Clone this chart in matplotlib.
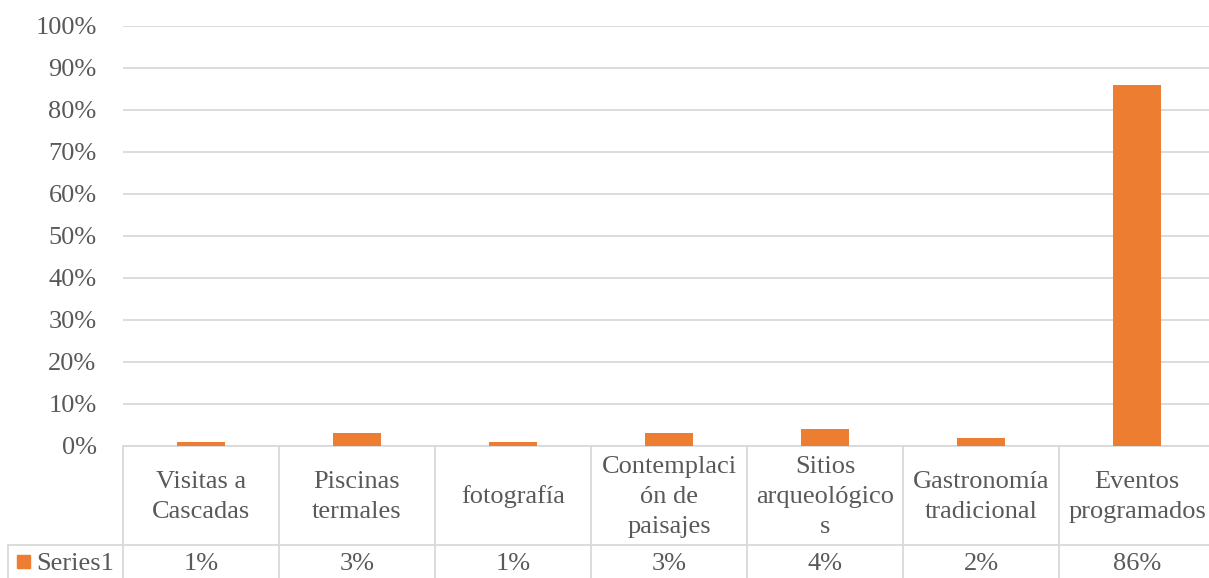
import numpy as np
import matplotlib.pyplot as plt
from matplotlib.patches import Rectangle

# ==========================================================
# Data
# ==========================================================

categories = [
    "Visitas a\nCascadas",
    "Piscinas\ntermales",
    "fotografía",
    "Contemplaci\nón de\npaisajes",
    "Sitios\narqueológico\ns",
    "Gastronomía\ntradicional",
    "Eventos\nprogramados",
]

values = [0.01, 0.03, 0.01, 0.03, 0.04, 0.02, 0.86]

series_name = "Series1"

yticks = np.arange(0, 1.01, 0.1)

# ==========================================================
# Style
# ==========================================================

BAR_COLOR = "#ED7D31"
TEXT_COLOR = "#595959"
GRID_COLOR = "#D9D9D9"
FS = 19

plt.rcParams["font.family"] = ["Liberation Serif", "DejaVu Serif"]

W, H = 1209, 578
fig = plt.figure(figsize=(W / 100, H / 100), dpi=100)

# plot area in pixels
x0, cell_w = 123, 156
y_zero, y_top = 446, 26
n = len(categories)

ax = fig.add_axes([
    x0 / W,
    (H - y_zero) / H,
    n * cell_w / W,
    (y_zero - y_top) / H,
])

x = np.arange(n)
ax.bar(x, values, width=0.31, color=BAR_COLOR, zorder=3)

ax.set_xlim(-0.5, n - 0.5)
ax.set_ylim(0, 1.0)
ax.set_yticks(yticks)
ax.set_yticklabels([f"{int(round(v * 100))}%" for v in yticks])
ax.tick_params(axis="y", length=0, pad=19, labelsize=FS, labelcolor=TEXT_COLOR)
ax.set_xticks([])

for s in ax.spines.values():
    s.set_visible(False)

ax.yaxis.grid(True, color=GRID_COLOR, linewidth=1.3, zorder=0)

# ==========================================================
# Data table
# ==========================================================

span = y_zero - y_top


def ay(ypix):
    return (y_zero - ypix) / span


def dx(xpix):
    return (xpix - x0) / cell_w - 0.5


tr = ax.get_xaxis_transform()
line_kw = dict(color=GRID_COLOR, linewidth=1.3, transform=tr, clip_on=False)

y_row = 545
y_bottom = 580
x_left = 8

# horizontal lines
ax.plot([-0.5, n - 0.5], [ay(y_zero), ay(y_zero)], **line_kw)
ax.plot([dx(x_left), n - 0.5], [ay(y_row), ay(y_row)], **line_kw)
ax.plot([dx(x_left), n - 0.5], [ay(y_bottom), ay(y_bottom)], **line_kw)

# vertical lines
for k in range(n + 1):
    ax.plot([k - 0.5, k - 0.5], [ay(y_zero), ay(y_bottom)], **line_kw)
ax.plot([dx(x_left), dx(x_left)], [ay(y_row), ay(y_bottom)], **line_kw)

# header labels and values
for i, (cat, v) in enumerate(zip(categories, values)):
    ax.text(i, ay(497), cat, transform=tr, ha="center", va="center",
            fontsize=FS, color=TEXT_COLOR, linespacing=1.48, clip_on=False)
    ax.text(i, ay(564), f"{int(round(v * 100))}%", transform=tr,
            ha="center", va="center", fontsize=FS, color=TEXT_COLOR,
            clip_on=False)

# legend key
ax.add_patch(Rectangle((dx(17), ay(568)), dx(30) - dx(17), ay(555) - ay(568),
                       transform=tr, color=BAR_COLOR, clip_on=False))
ax.text(dx(36), ay(564), series_name, transform=tr, ha="left", va="center",
        fontsize=FS, color=TEXT_COLOR, clip_on=False)

fig.savefig("out.png", dpi=100)
